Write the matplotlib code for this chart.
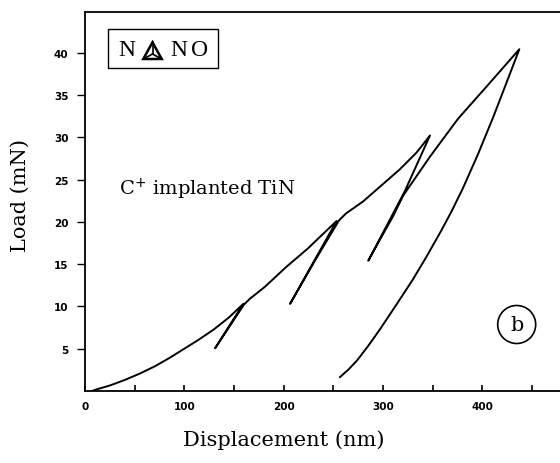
import matplotlib
matplotlib.use("Agg")
import matplotlib.pyplot as plt
from matplotlib.patches import Rectangle, Polygon, Ellipse
from matplotlib.lines import Line2D

# load-displacement path (nm, mN), in the order the tip travelled
disp = [7, 12, 25, 40, 55, 70, 85, 100, 115, 130, 145, 159.4,   # loading 1
        131,                                                    # unload 1
        160, 166, 181, 203, 224, 253.4,                         # reload / loading 2
        206.5,                                                  # unload 2
        232, 256, 263, 280, 317, 334, 347.4,                    # reload / loading 3
        322, 285.3,                                             # unload 3
        297, 310, 320.4, 348, 375.8, 406, 437.4,                # reload / loading 4
        424, 411.2, 395.8, 380.7, 369, 358.5, 344, 330.3, 313,
        297.1, 285, 273.9, 265, 256.8]                          # final unload
load = [0.0, 0.2, 0.65, 1.3, 2.05, 2.9, 3.9, 5.0, 6.1, 7.3, 8.7, 10.3,
        5.05,
        10.2, 10.9, 12.3, 14.7, 16.8, 20.1,
        10.3,
        15.5, 20.2, 21.0, 22.4, 26.2, 28.2, 30.2,
        23.6, 15.4,
        17.9, 20.6, 23.1, 27.8, 32.2, 36.2, 40.4,
        36.3, 32.4, 28.0, 24.0, 21.2, 18.9, 15.9, 13.2, 10.1,
        7.3, 5.3, 3.6, 2.5, 1.65]

yticks = [5, 10, 15, 20, 25, 30, 35, 40]
xticks = [0, 100, 200, 300, 400]
xminor = [50, 150, 250, 350, 450]

W, H = 560, 464
fig = plt.figure(figsize=(W / 100, H / 100), dpi=100)

def fx(px):
    return px / W

def fy(py):
    return 1 - py / H

ax = fig.add_axes([fx(85), fy(392), 500 * 0.993 / W, (392 - 13) / H])
ax.plot(disp, load, color="black", lw=1.4, solid_joinstyle="round")
ax.set_xlim(0, 500)
ax.set_ylim(0, 44.8)

for s in ax.spines.values():
    s.set_linewidth(1.3)

ax.set_yticks(yticks)
ax.set_xticks(xticks)
ax.set_xticks(xminor, minor=True)
ax.tick_params(axis="y", direction="out", length=6, width=1, pad=6)
ax.tick_params(axis="x", which="both", direction="in", length=4, width=1.2, pad=7)
for lab in ax.get_xticklabels() + ax.get_yticklabels():
    lab.set_fontsize(7.5)
    lab.set_fontweight("bold")

serif = "DejaVu Serif"
fig.text(fx(284), fy(440), "Displacement (nm)", ha="center", va="center",
         fontsize=15, family=serif)
fig.text(fx(20), fy(195), "Load (mN)", ha="center", va="center",
         rotation=90, fontsize=15, family=serif)
fig.text(fx(119), fy(189), "C$^{+}$ implanted TiN", ha="left", va="center",
         fontsize=14, family=serif)

# NANO logo
fig.add_artist(Rectangle((fx(107.7), fy(69.3)), fx(218.3) - fx(107.7), fy(30) - fy(69.3),
                         transform=fig.transFigure, fill=False, lw=1.0, color="black"))
for ch, px in [("N", 126.5), ("N", 178.5), ("O", 200)]:
    fig.text(fx(px), fy(50), ch, ha="center", va="center", fontsize=17,
             family="Liberation Serif")
tri = [(143.3, 60), (161.7, 60), (152.5, 43.3)]
fig.add_artist(Polygon([(fx(a), fy(b)) for a, b in tri], closed=True, fill=False,
                       lw=1.8, color="black", transform=fig.transFigure))
cx, cy = 152.5, 55
for a, b in tri:
    fig.add_artist(Line2D([fx(cx), fx(a)], [fy(cy), fy(b)], lw=1.2, color="black",
                          transform=fig.transFigure))

# panel label
fig.add_artist(Ellipse((fx(516.7), fy(325.5)), 38 / W, 38 / H, transform=fig.transFigure,
                       fill=False, lw=1.2, color="black"))
fig.text(fx(516.7), fy(325.5), "b", ha="center", va="center", fontsize=15, family=serif)

fig.savefig("out.png", dpi=100)
